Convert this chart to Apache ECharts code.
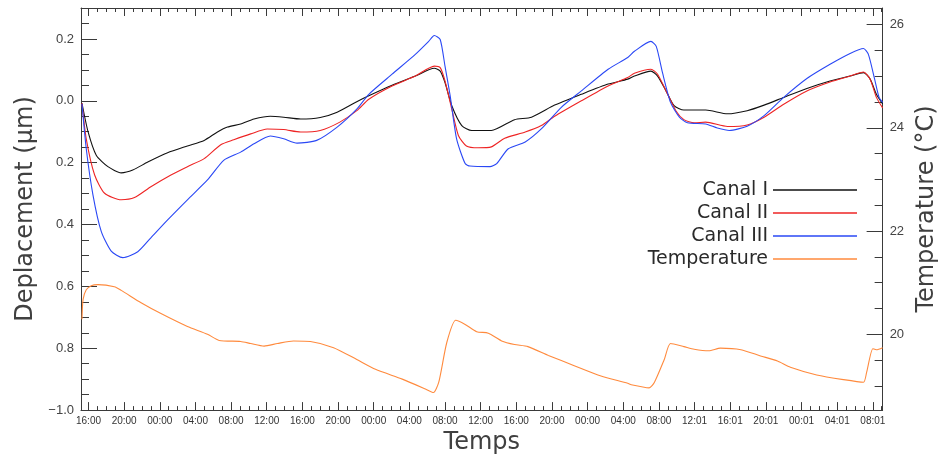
<!DOCTYPE html>
<html>
<head>
<meta charset="utf-8">
<script src="https://cdn.jsdelivr.net/npm/echarts@6/dist/echarts.min.js"></script>
<style>
  html, body { margin: 0; padding: 0; background: #fff; }
  #chart { width: 947px; height: 460px; }
</style>
</head>
<body>
<div id="chart"></div>
<script>
// Time axis: hours elapsed since the first 16:00 mark
const timeLabels = ['16:00','20:00','00:00','04:00','08:00','12:00','16:00','20:00','00:00','04:00','08:00','12:00',
                    '16:00','20:00','00:00','04:00','08:00','12:01','16:01','20:01','00:01','04:01','08:01'];
const tickHours = timeLabels.map((_, i) => i * 4);

// Displacement axis ticks and their printed labels
const dispTicks = [-1.0, -0.8, -0.6, -0.4, -0.2, 0.0, 0.2];
const dispLabels = ['\u22121.0', '0.8', '0.6', '0.4', '0.2', '0.0', '0.2'];

// Temperature axis ticks
const tempTicks = [20, 22, 24, 26];
const tempLabels = ['20', '22', '24', '26'];

// Displacement, channel I  [hour, µm]
const canal1 = [[-0.73,-0.008],[-0.05,-0.10],[0.87,-0.176],[2.18,-0.213],[3.67,-0.233],[4.97,-0.224],[6.65,-0.198],
  [8.88,-0.168],[11.1,-0.146],[12.98,-0.128],[14.47,-0.101],[15.6,-0.085],[17.07,-0.075],[18.57,-0.059],[20.4,-0.050],
  [21.9,-0.053],[23.8,-0.059],[26.0,-0.054],[27.9,-0.037],[30.1,-0.003],[31.45,0.016],[34.06,0.050],[36.67,0.080],
  [38.8,0.105],[39.46,0.096],[40.0,0.059],[40.76,-0.016],[41.88,-0.080],[43.0,-0.096],[45.2,-0.096],[47.8,-0.061],
  [49.7,-0.053],[52.3,-0.014],[55.3,0.021],[58.3,0.054],[60.5,0.070],[61.25,0.080],[63.1,0.096],[63.85,0.080],
  [64.8,0.032],[65.7,-0.016],[66.8,-0.030],[69.25,-0.030],[71.7,-0.042],[73.9,-0.032],[75.8,-0.014],[78.0,0.011],
  [80.6,0.040],[83.2,0.064],[85.45,0.080],[86.95,0.091],[87.7,0.070],[88.4,0.021],[89.1,-0.010]];

// Displacement, channel II
const canal2 = [[-0.73,-0.008],[-0.25,-0.123],[0.69,-0.24],[1.81,-0.299],[3.67,-0.32],[5.16,-0.313],[7.0,-0.278],
  [9.25,-0.24],[11.1,-0.213],[12.98,-0.187],[14.84,-0.142],[16.3,-0.126],[18.2,-0.107],[20.05,-0.091],[21.9,-0.093],
  [23.8,-0.101],[26.0,-0.096],[28.2,-0.069],[30.1,-0.032],[31.45,0.005],[34.06,0.048],[36.67,0.080],[38.8,0.112],
  [39.46,0.107],[40.0,0.064],[40.76,-0.027],[41.5,-0.112],[42.4,-0.146],[43.7,-0.152],[45.2,-0.149],[46.7,-0.121],
  [49.0,-0.101],[50.8,-0.080],[52.3,-0.050],[55.3,0.000],[58.3,0.048],[60.5,0.075],[61.25,0.089],[63.1,0.102],
  [63.85,0.086],[64.8,0.032],[65.9,-0.032],[66.8,-0.061],[67.95,-0.071],[69.25,-0.069],[71.7,-0.083],[73.9,-0.078],
  [75.8,-0.053],[78.0,-0.011],[80.6,0.032],[83.2,0.061],[85.45,0.080],[86.95,0.093],[87.7,0.070],[88.4,0.011],[89.1,-0.023]];

// Displacement, channel III
const canal3 = [[-0.73,-0.010],[-0.25,-0.155],[0.5,-0.304],[1.43,-0.422],[2.55,-0.486],[3.85,-0.507],[5.53,-0.488],
  [7.0,-0.443],[8.88,-0.385],[11.1,-0.32],[13.35,-0.256],[15.2,-0.192],[17.07,-0.166],[18.57,-0.139],[20.4,-0.114],
  [21.9,-0.123],[23.4,-0.137],[25.6,-0.128],[27.9,-0.085],[30.1,-0.027],[31.45,0.021],[34.06,0.086],[36.67,0.150],
  [38.16,0.192],[38.8,0.211],[39.46,0.198],[40.0,0.112],[40.58,0.016],[41.3,-0.123],[42.26,-0.203],[42.8,-0.211],
  [45.05,-0.213],[45.8,-0.203],[47.1,-0.155],[49.0,-0.133],[50.8,-0.091],[53.05,-0.021],[55.3,0.032],[58.3,0.102],
  [60.5,0.140],[61.25,0.160],[63.1,0.192],[63.7,0.176],[64.4,0.091],[65.3,-0.005],[66.3,-0.053],[67.2,-0.071],
  [69.25,-0.075],[70.55,-0.088],[71.9,-0.096],[73.9,-0.082],[75.8,-0.048],[78.0,0.011],[80.6,0.072],[83.2,0.118],
  [85.45,0.153],[86.95,0.169],[87.5,0.150],[88.2,0.070],[88.7,0.011],[89.1,-0.005]];

// Temperature  [hour, °C]
const temperature = [[-0.73,20.29],[-0.61,20.67],[-0.25,20.86],[0.31,20.94],[1.06,20.96],[2.9,20.92],[3.67,20.85],
  [5.9,20.61],[8.13,20.40],[11.1,20.15],[13.35,20.00],[14.66,19.88],[17.07,19.86],[18.2,19.82],[19.7,19.77],
  [21.2,19.82],[23.0,19.87],[24.9,19.86],[27.5,19.74],[30.1,19.51],[32.2,19.32],[35.2,19.13],[37.8,18.94],
  [38.7,18.87],[39.3,19.07],[40.2,19.84],[41.2,20.27],[42.26,20.19],[43.55,20.05],[44.86,20.02],[46.35,19.87],
  [47.8,19.80],[49.3,19.76],[51.6,19.59],[54.5,19.39],[57.5,19.19],[60.5,19.05],[60.9,19.02],[62.9,18.96],
  [63.5,19.07],[64.6,19.51],[65.3,19.82],[66.8,19.76],[67.95,19.71],[69.6,19.68],[70.9,19.73],[73.2,19.70],
  [75.4,19.58],[77.3,19.48],[78.75,19.36],[81.7,19.21],[84.7,19.12],[86.95,19.07],[87.3,19.26],[88.0,19.72],
  [88.4,19.70],[89.1,19.74]];

// Minor tick positions between the labelled ticks
function between(lo, hi, step, skip) {
  const out = [];
  for (let v = lo; v <= hi + 1e-9; v += step) {
    const r = Math.round(v * 1000) / 1000;
    if (!skip.some(s => Math.abs(s - r) < 1e-6)) out.push(r);
  }
  return out;
}
const hourMinor = between(1, 89, 1, tickHours);
const dispMinor = between(-0.95, 0.25, 0.05, dispTicks);
const tempMinor = between(19, 26, 0.5, tempTicks);

const X_MIN = -0.84, X_MAX = 89.1;
const D_MIN = -1.0, D_MAX = 0.3;
const T_MIN = 18.53, T_MAX = 26.32;

const ink = '#3a3a3a';
const lightFont = '"DejaVu Sans", sans-serif';
const labelFont = '"Liberation Sans", Arial, sans-serif';
const palette = ['#111111', '#ee2424', '#2a48f5', '#ff8a3d'];

// Builds the option; higher `plain` levels drop decorative styling
function buildOption(plain) {
  const tickStyle = plain >= 2 ? {} : { lineStyle: { color: ink, width: 1 } };
  const lineStyle = plain >= 2 ? {} : { lineStyle: { color: ink, width: 1 } };

  // An axis that only carries tick marks at the given values, sitting on the grid edge
  function tickAxis(base, values, len, extra) {
    const axis = Object.assign({
      type: 'value',
      splitLine: { show: false },
      axisLabel: { show: false },
      axisTick: Object.assign({ show: true, inside: true, length: len, customValues: values }, tickStyle)
    }, base, extra || {});
    axis.axisLine = Object.assign({ show: false }, axis.axisLine || {}, { onZero: false });
    return axis;
  }
  function labels(values, formatter, size, margin, color) {
    const l = { show: true, customValues: values, formatter: formatter };
    if (plain < 2) Object.assign(l, { fontSize: size, margin: margin, color: color, fontFamily: labelFont });
    return l;
  }
  function axisName(text, gap) {
    const n = { name: text, nameLocation: 'middle', nameGap: gap };
    if (plain < 3) n.nameTextStyle = { fontSize: 24, color: '#404040' };
    if (plain < 1) n.nameTextStyle.fontFamily = lightFont;
    return n;
  }

  const legend = {
    orient: 'vertical', align: 'right', right: 90, top: 180, padding: 0,
    data: ['Canal I', 'Canal II', 'Canal III', 'Temperature']
  };
  if (plain < 3) Object.assign(legend, {
    itemGap: 3, itemWidth: 84, itemHeight: 1.5, icon: 'rect',
    textStyle: { fontFamily: lightFont, fontSize: 19, lineHeight: 20, color: '#2a2a2a' }
  });

  function line(name, data, yIndex, color) {
    const s = { name: name, type: 'line', data: data, xAxisIndex: 0, yAxisIndex: yIndex, showSymbol: false, color: color };
    if (plain < 3) Object.assign(s, { smooth: 0.22, lineStyle: { width: 1.1, color: color } });
    return s;
  }

  return {
    animation: false,
    backgroundColor: '#ffffff',
    color: palette,
    grid: { left: 81, right: 61, top: 8, bottom: 47 },
    legend: legend,
    xAxis: [
      tickAxis({ position: 'bottom', min: X_MIN, max: X_MAX }, tickHours, 8, Object.assign({
        axisLine: Object.assign({ show: true }, lineStyle),
        axisLabel: labels(tickHours, v => timeLabels[tickHours.indexOf(Math.round(v))] || '', 10, 6, '#333')
      }, axisName('Temps', 18))),
      tickAxis({ position: 'bottom', min: X_MIN, max: X_MAX }, hourMinor, 4),
      tickAxis({ position: 'top', min: X_MIN, max: X_MAX }, tickHours, 8, {
        axisLine: Object.assign({ show: true }, lineStyle)
      }),
      tickAxis({ position: 'top', min: X_MIN, max: X_MAX }, hourMinor, 4)
    ],
    yAxis: [
      tickAxis({ position: 'left', min: D_MIN, max: D_MAX }, dispTicks, 16, Object.assign({
        axisLine: Object.assign({ show: true }, lineStyle),
        axisLabel: labels(dispTicks, v => dispLabels[dispTicks.findIndex(t => Math.abs(t - v) < 1e-6)] || '', 13, 7, '#444')
      }, axisName('Deplacement (\u03bcm)', 24))),
      tickAxis({ position: 'left', min: D_MIN, max: D_MAX }, dispMinor, 8),
      tickAxis({ position: 'right', min: T_MIN, max: T_MAX }, tempTicks, 16, Object.assign({
        axisLine: Object.assign({ show: true }, lineStyle),
        axisLabel: labels(tempTicks, v => tempLabels[tempTicks.indexOf(Math.round(v))] || '', 13, 7, '#444')
      }, axisName('Temperature (\u00b0C)', 28))),
      tickAxis({ position: 'right', min: T_MIN, max: T_MAX }, tempMinor, 8)
    ],
    series: [
      line('Canal I', canal1, 0, palette[0]),
      line('Canal II', canal2, 0, palette[1]),
      line('Canal III', canal3, 0, palette[2]),
      line('Temperature', temperature, 2, palette[3])
    ]
  };
}

const chart = echarts.init(document.getElementById('chart'), null, { renderer: 'canvas' });

// Number of straight segments drawn (axis lines plus every tick mark)
function countSegments() {
  return chart.getZr().storage.getDisplayList(true).filter(el => el.type === 'line').length;
}

// Use the richest styling that still draws the tick marks
for (let plain = 0; plain <= 3; plain++) {
  chart.setOption(buildOption(plain), true);
  if (countSegments() >= 40) break;
}
</script>
</body>
</html>
